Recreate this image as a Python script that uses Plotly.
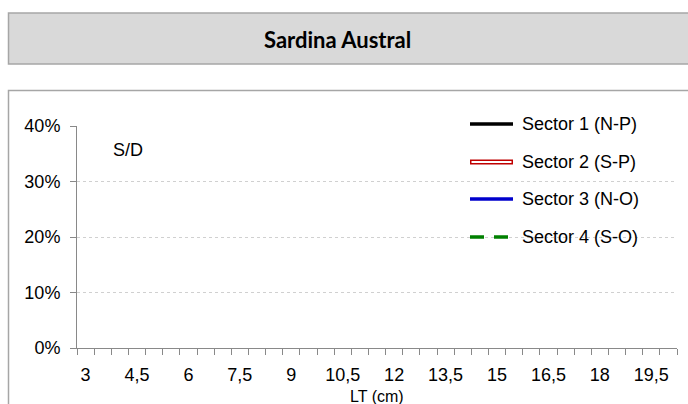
import plotly.graph_objects as go

# talla (LT, cm) en clases de 0,5 cm
tallas = [3, 3.5, 4, 4.5, 5, 5.5, 6, 6.5, 7, 7.5, 8, 8.5, 9, 9.5, 10, 10.5, 11, 11.5,
          12, 12.5, 13, 13.5, 14, 14.5, 15, 15.5, 16, 16.5, 17, 17.5, 18, 18.5, 19, 19.5, 20]
etiquetas_x = [3, 4.5, 6, 7.5, 9, 10.5, 12, 13.5, 15, 16.5, 18, 19.5]
etiquetas_y = [0, 0.1, 0.2, 0.3, 0.4]

# sin datos (S/D) para todos los sectores
sectores = ['Sector 1 (N-P)', 'Sector 2 (S-P)', 'Sector 3 (N-O)', 'Sector 4 (S-O)']
sector1 = [None] * len(tallas)
sector2 = [None] * len(tallas)
sector3 = [None] * len(tallas)
sector4 = [None] * len(tallas)
valores = [sector1, sector2, sector3, sector4]

colores = ['#000000', '#C00000', '#0000CC', '#008000']
estilos = ['solid', 'solid', 'solid', '14px,10px']

W, H = 688, 404
L, R, T, B = 77, 11, 126, 56
pw, ph = W - L - R, H - T - B

def px(x):
    return (x - L) / pw

def py(y):
    return (H - B - y) / ph

fig = go.Figure()
for nombre, v, c, d in zip(sectores, valores, colores, estilos):
    fig.add_trace(go.Scatter(x=tallas, y=v, name=nombre, mode='lines',
                             line=dict(color=c, width=3, dash=d), showlegend=False))

shapes = []
annots = []

# caja del titulo
shapes.append(dict(type='rect', xref='paper', yref='paper', x0=px(8.5), x1=px(700), y0=py(64), y1=py(13),
                   fillcolor='#D9D9D9', line=dict(color='#A6A6A6', width=1.5), layer='below'))
annots.append(dict(text='<b>Sardina Austral</b>', xref='paper', yref='paper', x=px(337), y=py(39),
                   xanchor='center', yanchor='middle',
                   showarrow=False, font=dict(family='Lato', size=22, color='#000000')))
# borde del grafico
shapes.append(dict(type='rect', xref='paper', yref='paper', x0=px(8.5), x1=px(700), y0=py(420), y1=py(90.5),
                   fillcolor='rgba(0,0,0,0)', line=dict(color='#A6A6A6', width=1.5), layer='below'))

# leyenda manual
filas = [124, 162, 199, 237]
for nombre, c, d, yy in zip(sectores, colores, estilos, filas):
    if nombre == 'Sector 2 (S-P)':
        shapes.append(dict(type='line', xref='paper', yref='paper', x0=px(470), x1=px(513), y0=py(yy), y1=py(yy),
                           line=dict(color=c, width=5)))
        shapes.append(dict(type='line', xref='paper', yref='paper', x0=px(471.5), x1=px(511.5), y0=py(yy), y1=py(yy),
                           line=dict(color='#FFFFFF', width=2)))
    else:
        shapes.append(dict(type='line', xref='paper', yref='paper', x0=px(470), x1=px(513), y0=py(yy), y1=py(yy),
                           line=dict(color=c, width=3.5, dash=d)))
    annots.append(dict(text=nombre, xref='paper', yref='paper', x=px(520), y=py(yy),
                       xanchor='left', yanchor='middle',
                       showarrow=False, font=dict(size=18, color='#000000')))

annots.append(dict(text='S/D', xref='paper', yref='paper', x=px(111), y=py(150),
                   xanchor='left', yanchor='middle',
                   showarrow=False, font=dict(size=18, color='#000000')))
annots.append(dict(text='LT (cm)', xref='paper', yref='paper', x=px(377), y=py(396),
                   xanchor='center', yanchor='middle',
                   showarrow=False, font=dict(size=16, color='#000000')))

fig.update_layout(
    width=W, height=H,
    margin=dict(l=L, r=R, t=T, b=B),
    paper_bgcolor='white', plot_bgcolor='white',
    font=dict(family='Liberation Sans, Arial', size=18, color='#000000'),
    shapes=shapes, annotations=annots,
    showlegend=False,
)
fig.update_xaxes(range=[2.75, 20.25], tickvals=etiquetas_x,
                 ticktext=[str(v).replace('.', ',') for v in etiquetas_x],
                 ticks='', showgrid=False, zeroline=False,
                 showline=True, linecolor='#898989', linewidth=1,
                 ticklabelstandoff=10,
                 minor=dict(tick0=2.75, dtick=0.5, ticks='outside', ticklen=6, tickcolor='#898989',
                            showgrid=False))
fig.update_yaxes(range=[0, 0.4], tickvals=etiquetas_y, tickformat='.0%',
                 ticks='outside', ticklen=6, tickcolor='#898989',
                 showgrid=True, gridcolor='#D0D0D0', griddash='dot', gridwidth=1,
                 zeroline=False, showline=True, linecolor='#898989', linewidth=1,
                 ticklabelstandoff=6)

# sin margen de pagina, para que la figura ocupe toda la ventana
fig.write_html('out.html', config={'displayModeBar': False},
               post_script="document.body.style.margin='0';document.body.style.overflow='hidden';")
